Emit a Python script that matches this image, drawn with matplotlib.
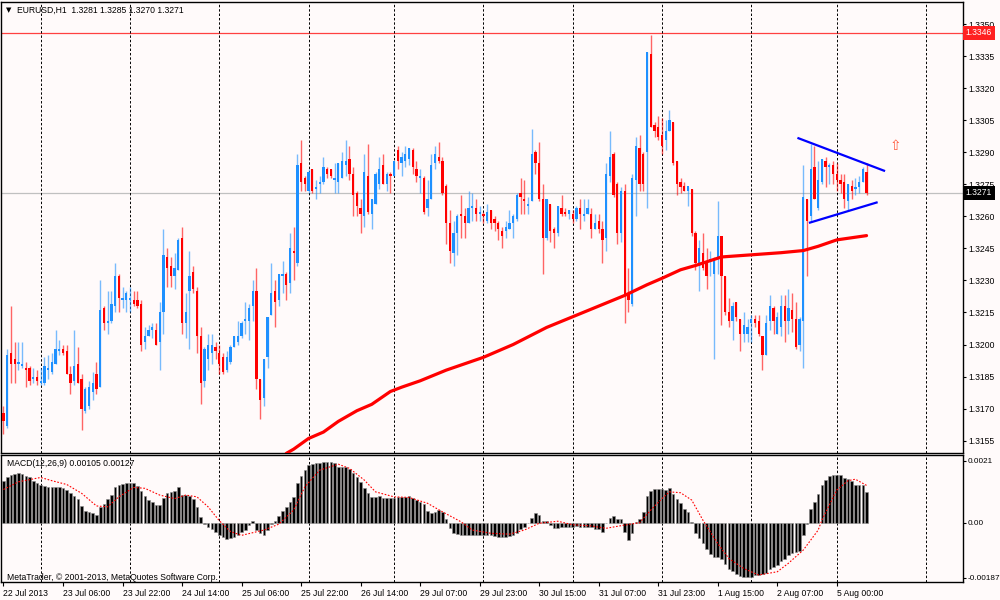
import matplotlib
matplotlib.use("Agg")
import matplotlib.pyplot as plt
import numpy as np

plt.rcParams['font.family'] = ['Liberation Sans', 'DejaVu Sans']

# hourly candles, 22 Jul 2013 14:00 .. 5 Aug 2013 08:00
opens = [
    1.3168, 1.3162, 1.3196, 1.3193, 1.3191, 1.3190, 1.3189, 1.3189, 1.3184, 1.3185,
    1.3182, 1.3182, 1.3188, 1.3187, 1.3191, 1.3197, 1.3198, 1.3197, 1.3186, 1.3183,
    1.3191, 1.3184, 1.3169, 1.3171, 1.3178, 1.3186, 1.3180, 1.3217, 1.3210, 1.3211,
    1.3218, 1.3232, 1.3221, 1.3221, 1.3221, 1.3221, 1.3221, 1.3219, 1.3201, 1.3204,
    1.3207, 1.3207, 1.3201, 1.3215, 1.3241, 1.3237, 1.3232, 1.3235, 1.3250, 1.3210,
    1.3225, 1.3234, 1.3225, 1.3204, 1.3183, 1.3193, 1.3196, 1.3199, 1.3196, 1.3194,
    1.3188, 1.3192, 1.3199, 1.3201, 1.3204, 1.3211, 1.3211, 1.3218, 1.3225, 1.3184,
    1.3175, 1.3194, 1.3214, 1.3225, 1.3221, 1.3232, 1.3233, 1.3229, 1.3244, 1.3238,
    1.3285, 1.3278, 1.3272, 1.3282, 1.3273, 1.3275, 1.3276, 1.3282, 1.3282, 1.3277,
    1.3276, 1.3278, 1.3284, 1.3287, 1.3280, 1.3271, 1.3264, 1.3260, 1.3279, 1.3261,
    1.3266, 1.3275, 1.3284, 1.3275, 1.3280, 1.3279, 1.3291, 1.3285, 1.3286, 1.3287,
    1.3291, 1.3282, 1.3278, 1.3278, 1.3264, 1.3268, 1.3285, 1.3288, 1.3286, 1.3274,
    1.3257, 1.3243, 1.3252, 1.3261, 1.3260, 1.3257, 1.3264, 1.3264, 1.3261, 1.3261,
    1.3258, 1.3263, 1.3259, 1.3257, 1.3253, 1.3253, 1.3254, 1.3257, 1.3259, 1.3271,
    1.3268, 1.3265, 1.3267, 1.3290, 1.3285, 1.3268, 1.3250, 1.3266, 1.3254, 1.3252,
    1.3264, 1.3262, 1.3261, 1.3261, 1.3259, 1.3264, 1.3260, 1.3261, 1.3261, 1.3254,
    1.3258, 1.3254, 1.3250, 1.3279, 1.3289, 1.3275, 1.3252, 1.3272, 1.3224, 1.3219,
    1.3277, 1.3292, 1.3289, 1.3290, 1.3336, 1.3303, 1.3302, 1.3298, 1.3296, 1.3300,
    1.3304, 1.3286, 1.3276, 1.3274, 1.3272, 1.3273, 1.3252, 1.3237, 1.3243, 1.3239,
    1.3239, 1.3233, 1.3240, 1.3251, 1.3232, 1.3215, 1.3211, 1.3220, 1.3212, 1.3205,
    1.3205, 1.3210, 1.3212, 1.3211, 1.3204, 1.3195, 1.3211, 1.3217, 1.3205, 1.3208,
    1.3218, 1.3211, 1.3216, 1.3212, 1.3200, 1.3211, 1.3268, 1.3260, 1.3283, 1.3264,
    1.3276, 1.3286, 1.3283, 1.3284, 1.3280, 1.3277, 1.3276, 1.3267, 1.3274, 1.3273,
    1.3274, 1.3276, 1.3281,
]
highs = [
    1.3171, 1.3198, 1.3218, 1.3201, 1.3201, 1.3201, 1.3192, 1.3190, 1.3189, 1.3188,
    1.3189, 1.3194, 1.3195, 1.3196, 1.3207, 1.3202, 1.3200, 1.3200, 1.3190, 1.3207,
    1.3199, 1.3186, 1.3180, 1.3183, 1.3187, 1.3192, 1.3230, 1.3218, 1.3225, 1.3225,
    1.3238, 1.3233, 1.3227, 1.3225, 1.3227, 1.3225, 1.3225, 1.3221, 1.3208, 1.3209,
    1.3210, 1.3210, 1.3220, 1.3254, 1.3245, 1.3241, 1.3243, 1.3250, 1.3255, 1.3224,
    1.3244, 1.3237, 1.3227, 1.3208, 1.3199, 1.3205, 1.3205, 1.3201, 1.3200, 1.3196,
    1.3197, 1.3200, 1.3204, 1.3211, 1.3211, 1.3220, 1.3219, 1.3230, 1.3236, 1.3184,
    1.3193, 1.3213, 1.3238, 1.3230, 1.3233, 1.3239, 1.3234, 1.3252, 1.3255, 1.3289,
    1.3296, 1.3279, 1.3282, 1.3282, 1.3277, 1.3279, 1.3288, 1.3283, 1.3282, 1.3285,
    1.3285, 1.3290, 1.3296, 1.3293, 1.3283, 1.3272, 1.3268, 1.3289, 1.3294, 1.3268,
    1.3281, 1.3288, 1.3289, 1.3281, 1.3281, 1.3286, 1.3293, 1.3290, 1.3293, 1.3292,
    1.3292, 1.3286, 1.3282, 1.3279, 1.3277, 1.3289, 1.3293, 1.3295, 1.3288, 1.3275,
    1.3263, 1.3258, 1.3261, 1.3270, 1.3264, 1.3272, 1.3271, 1.3268, 1.3265, 1.3262,
    1.3266, 1.3263, 1.3260, 1.3258, 1.3255, 1.3258, 1.3263, 1.3261, 1.3271, 1.3278,
    1.3277, 1.3269, 1.3301, 1.3291, 1.3295, 1.3275, 1.3268, 1.3266, 1.3255, 1.3265,
    1.3270, 1.3264, 1.3263, 1.3263, 1.3265, 1.3268, 1.3268, 1.3268, 1.3264, 1.3261,
    1.3261, 1.3258, 1.3285, 1.3300, 1.3290, 1.3276, 1.3274, 1.3275, 1.3236, 1.3280,
    1.3297, 1.3298, 1.3290, 1.3337, 1.3345, 1.3304, 1.3307, 1.3306, 1.3305, 1.3310,
    1.3304, 1.3286, 1.3278, 1.3276, 1.3274, 1.3273, 1.3253, 1.3249, 1.3252, 1.3245,
    1.3244, 1.3241, 1.3267, 1.3251, 1.3232, 1.3222, 1.3220, 1.3220, 1.3212, 1.3215,
    1.3212, 1.3214, 1.3214, 1.3214, 1.3204, 1.3214, 1.3223, 1.3218, 1.3215, 1.3223,
    1.3223, 1.3226, 1.3224, 1.3220, 1.3213, 1.3284, 1.3268, 1.3294, 1.3293, 1.3286,
    1.3287, 1.3288, 1.3285, 1.3286, 1.3285, 1.3280, 1.3280, 1.3275, 1.3277, 1.3278,
    1.3279, 1.3283, 1.3285,
]
lows = [
    1.3158, 1.3161, 1.3182, 1.3182, 1.3188, 1.3189, 1.3180, 1.3181, 1.3182, 1.3181,
    1.3181, 1.3181, 1.3184, 1.3186, 1.3191, 1.3195, 1.3195, 1.3186, 1.3177, 1.3181,
    1.3182, 1.3160, 1.3168, 1.3170, 1.3174, 1.3177, 1.3180, 1.3207, 1.3205, 1.3210,
    1.3215, 1.3215, 1.3217, 1.3215, 1.3215, 1.3218, 1.3217, 1.3197, 1.3198, 1.3204,
    1.3203, 1.3200, 1.3188, 1.3205, 1.3227, 1.3227, 1.3226, 1.3235, 1.3205, 1.3203,
    1.3198, 1.3224, 1.3196, 1.3172, 1.3180, 1.3188, 1.3191, 1.3193, 1.3186, 1.3186,
    1.3187, 1.3191, 1.3199, 1.3200, 1.3203, 1.3205, 1.3202, 1.3211, 1.3179, 1.3165,
    1.3171, 1.3189, 1.3214, 1.3208, 1.3218, 1.3224, 1.3221, 1.3224, 1.3230, 1.3237,
    1.3272, 1.3272, 1.3271, 1.3271, 1.3268, 1.3271, 1.3275, 1.3278, 1.3278, 1.3271,
    1.3271, 1.3278, 1.3279, 1.3277, 1.3260, 1.3260, 1.3252, 1.3255, 1.3261, 1.3254,
    1.3266, 1.3273, 1.3275, 1.3272, 1.3271, 1.3279, 1.3282, 1.3279, 1.3283, 1.3284,
    1.3280, 1.3276, 1.3271, 1.3261, 1.3260, 1.3268, 1.3282, 1.3285, 1.3270, 1.3247,
    1.3238, 1.3237, 1.3242, 1.3250, 1.3250, 1.3257, 1.3258, 1.3258, 1.3258, 1.3257,
    1.3257, 1.3254, 1.3253, 1.3249, 1.3245, 1.3250, 1.3254, 1.3250, 1.3258, 1.3261,
    1.3261, 1.3261, 1.3267, 1.3280, 1.3267, 1.3233, 1.3249, 1.3248, 1.3245, 1.3251,
    1.3260, 1.3260, 1.3259, 1.3257, 1.3258, 1.3254, 1.3258, 1.3261, 1.3250, 1.3254,
    1.3252, 1.3238, 1.3244, 1.3276, 1.3269, 1.3247, 1.3248, 1.3210, 1.3215, 1.3218,
    1.3260, 1.3272, 1.3272, 1.3264, 1.3302, 1.3297, 1.3296, 1.3289, 1.3291, 1.3300,
    1.3284, 1.3270, 1.3271, 1.3272, 1.3265, 1.3251, 1.3235, 1.3225, 1.3235, 1.3226,
    1.3232, 1.3193, 1.3233, 1.3209, 1.3214, 1.3208, 1.3202, 1.3211, 1.3197, 1.3201,
    1.3201, 1.3201, 1.3208, 1.3204, 1.3188, 1.3195, 1.3207, 1.3205, 1.3205, 1.3204,
    1.3201, 1.3205, 1.3206, 1.3198, 1.3197, 1.3189, 1.3232, 1.3258, 1.3268, 1.3263,
    1.3275, 1.3274, 1.3275, 1.3275, 1.3272, 1.3271, 1.3264, 1.3263, 1.3268, 1.3270,
    1.3271, 1.3276, 1.3270,
]
closes = [
    1.3164, 1.3195, 1.3191, 1.3191, 1.3192, 1.3191, 1.3188, 1.3183, 1.3185, 1.3183,
    1.3183, 1.3190, 1.3189, 1.3192, 1.3198, 1.3198, 1.3196, 1.3186, 1.3182, 1.3190,
    1.3182, 1.3170, 1.3179, 1.3180, 1.3182, 1.3179, 1.3216, 1.3210, 1.3211, 1.3219,
    1.3232, 1.3222, 1.3222, 1.3224, 1.3222, 1.3219, 1.3218, 1.3200, 1.3204, 1.3207,
    1.3208, 1.3200, 1.3215, 1.3242, 1.3236, 1.3232, 1.3236, 1.3249, 1.3210, 1.3215,
    1.3232, 1.3226, 1.3204, 1.3182, 1.3198, 1.3200, 1.3200, 1.3197, 1.3191, 1.3187,
    1.3194, 1.3199, 1.3204, 1.3204, 1.3210, 1.3212, 1.3217, 1.3225, 1.3184, 1.3174,
    1.3193, 1.3213, 1.3224, 1.3220, 1.3233, 1.3233, 1.3228, 1.3245, 1.3243, 1.3284,
    1.3276, 1.3275, 1.3281, 1.3272, 1.3274, 1.3276, 1.3283, 1.3280, 1.3279, 1.3278,
    1.3285, 1.3286, 1.3286, 1.3280, 1.3270, 1.3265, 1.3261, 1.3281, 1.3262, 1.3268,
    1.3280, 1.3282, 1.3275, 1.3280, 1.3279, 1.3286, 1.3286, 1.3288, 1.3289, 1.3292,
    1.3283, 1.3279, 1.3279, 1.3262, 1.3268, 1.3284, 1.3289, 1.3286, 1.3271, 1.3257,
    1.3244, 1.3252, 1.3260, 1.3260, 1.3257, 1.3264, 1.3265, 1.3261, 1.3262, 1.3260,
    1.3262, 1.3257, 1.3257, 1.3254, 1.3251, 1.3255, 1.3257, 1.3260, 1.3270, 1.3269,
    1.3267, 1.3266, 1.3289, 1.3285, 1.3268, 1.3250, 1.3268, 1.3253, 1.3252, 1.3265,
    1.3261, 1.3261, 1.3263, 1.3259, 1.3264, 1.3261, 1.3261, 1.3264, 1.3254, 1.3257,
    1.3254, 1.3249, 1.3280, 1.3288, 1.3270, 1.3252, 1.3272, 1.3223, 1.3221, 1.3278,
    1.3293, 1.3275, 1.3275, 1.3337, 1.3302, 1.3300, 1.3297, 1.3293, 1.3300, 1.3305,
    1.3285, 1.3275, 1.3274, 1.3272, 1.3274, 1.3252, 1.3238, 1.3245, 1.3236, 1.3232,
    1.3240, 1.3240, 1.3251, 1.3232, 1.3215, 1.3211, 1.3218, 1.3213, 1.3205, 1.3209,
    1.3208, 1.3212, 1.3210, 1.3205, 1.3195, 1.3210, 1.3218, 1.3211, 1.3213, 1.3218,
    1.3211, 1.3217, 1.3212, 1.3199, 1.3212, 1.3269, 1.3258, 1.3282, 1.3268, 1.3277,
    1.3287, 1.3283, 1.3284, 1.3280, 1.3277, 1.3275, 1.3268, 1.3275, 1.3272, 1.3274,
    1.3276, 1.3282, 1.3271,
]

# MACD(12,26,9) main values, one per bar
macd_main = [
    0.00143, 0.00154, 0.00161, 0.00166, 0.00168, 0.00166, 0.00159, 0.00154, 0.00143, 0.00134,
    0.00127, 0.00125, 0.00120, 0.00120, 0.00123, 0.00123, 0.00119, 0.00111, 0.00100, 0.00091,
    0.00079, 0.00057, 0.00041, 0.00036, 0.00034, 0.00027, 0.00054, 0.00064, 0.00079, 0.00095,
    0.00120, 0.00127, 0.00132, 0.00134, 0.00136, 0.00134, 0.00125, 0.00107, 0.00091, 0.00077,
    0.00070, 0.00061, 0.00059, 0.00084, 0.00100, 0.00104, 0.00109, 0.00123, 0.00095, 0.00095,
    0.00091, 0.00082, 0.00054, 0.00020, -0.00005, -0.00016, -0.00023, -0.00030, -0.00042, -0.00050,
    -0.00057, -0.00052, -0.00048, -0.00041, -0.00032, -0.00025, -0.00009, 0.00007, -0.00025, -0.00034,
    -0.00043, -0.00025, -0.00005, 0.00005, 0.00023, 0.00041, 0.00052, 0.00070, 0.00089, 0.00134,
    0.00159, 0.00179, 0.00195, 0.00200, 0.00202, 0.00204, 0.00207, 0.00208, 0.00207, 0.00202,
    0.00191, 0.00191, 0.00188, 0.00182, 0.00168, 0.00154, 0.00138, 0.00118, 0.00100, 0.00089,
    0.00089, 0.00091, 0.00084, 0.00083, 0.00083, 0.00083, 0.00086, 0.00086, 0.00089, 0.00091,
    0.00084, 0.00077, 0.00070, 0.00064, 0.00039, 0.00032, 0.00036, 0.00043, 0.00036, 0.00014,
    -0.00018, -0.00034, -0.00039, -0.00041, -0.00043, -0.00043, -0.00041, -0.00041, -0.00041, -0.00041,
    -0.00041, -0.00042, -0.00045, -0.00050, -0.00050, -0.00050, -0.00045, -0.00041, -0.00034, -0.00020,
    -0.00016, -0.00002, 0.00015, 0.00032, 0.00026, 0.00007, 0.00005, -0.00009, -0.00018, -0.00018,
    -0.00016, -0.00016, -0.00014, -0.00014, -0.00011, -0.00014, -0.00014, -0.00014, -0.00016, -0.00020,
    -0.00023, -0.00031, -0.00002, 0.00016, 0.00023, 0.00011, 0.00011, -0.00030, -0.00059, -0.00034,
    0.00002, 0.00011, 0.00036, 0.00091, 0.00107, 0.00113, 0.00116, 0.00113, 0.00111, 0.00118,
    0.00098, 0.00082, 0.00066, 0.00048, 0.00036, 0.00002, -0.00034, -0.00052, -0.00070, -0.00089,
    -0.00107, -0.00116, -0.00118, -0.00123, -0.00141, -0.00157, -0.00163, -0.00173, -0.00182, -0.00184,
    -0.00186, -0.00186, -0.00179, -0.00177, -0.00175, -0.00170, -0.00159, -0.00150, -0.00143, -0.00132,
    -0.00123, -0.00111, -0.00104, -0.00100, -0.00098, -0.00043, -0.00005, 0.00045, 0.00070, 0.00098,
    0.00127, 0.00145, 0.00159, 0.00163, 0.00163, 0.00161, 0.00152, 0.00148, 0.00141, 0.00129,
    0.00129, 0.00127, 0.00105,
]

# MACD signal line, read at points along the dotted curve
signal_bars = [0, 4, 10, 13, 17, 21, 25, 28, 31, 35, 38, 42, 46, 49, 52, 55, 58, 61, 64, 70,
               74, 78, 81, 85, 90, 93, 97, 100, 105, 109, 114, 118, 123, 126, 131, 136, 140,
               144, 149, 153, 158, 162, 167, 171, 174, 177, 179, 182, 185, 188, 192, 195, 199,
               203, 208, 211, 215, 219, 220, 224, 227, 229, 232]
signal_vals = [0.00113, 0.00139, 0.00154, 0.00143, 0.00130, 0.00100, 0.00057, 0.00054, 0.00088,
               0.00120, 0.00117, 0.00094, 0.00082, 0.00094, 0.00088, 0.00054, 0.00007, -0.00030,
               -0.00043, -0.00025, -0.00005, 0.00043, 0.00122, 0.00179, 0.00199, 0.00185, 0.00145,
               0.00105, 0.00088, 0.00086, 0.00066, 0.00037, 0.00003, -0.00025, -0.00036, -0.00039,
               -0.00025, -0.00002, 0.00005, -0.00007, -0.00011, -0.00019, -0.00008, 0.00000,
               0.00043, 0.00082, 0.00105, 0.00102, 0.00077, 0.00009, -0.00071, -0.00122, -0.00156,
               -0.00178, -0.00167, -0.00138, -0.00093, -0.00025, 0.00009, 0.00111, 0.00143,
               0.00148, 0.00127]

# thick red moving average, read at points along the curve
ma_bars = [76, 78, 82, 86, 90, 95, 99, 104, 107, 112, 119, 129, 137, 146, 153, 160, 167, 173,
           177, 182, 186, 193, 201, 209, 215, 219, 224, 228, 232]
ma_vals = [1.3149, 1.3151, 1.3156, 1.3159, 1.3164, 1.3169, 1.3172, 1.3178, 1.3180, 1.3183,
           1.3188, 1.3194, 1.3200, 1.3208, 1.3213, 1.3218, 1.3223, 1.3228, 1.3231, 1.3235,
           1.3237, 1.3241, 1.3242, 1.3243, 1.3244, 1.3246, 1.3249, 1.3250, 1.3251]

# triangle drawn on the chart
tri_upper_bars = [213.7, 236.7]
tri_upper_vals = [1.32966, 1.32814]
tri_lower_bars = [216.8, 234.7]
tri_lower_vals = [1.32571, 1.32665]
arrow_bar = 239.7
arrow_price = 1.3293

time_labels = ['22 Jul 2013', '23 Jul 06:00', '23 Jul 22:00', '24 Jul 14:00', '25 Jul 06:00',
               '25 Jul 22:00', '26 Jul 14:00', '29 Jul 07:00', '29 Jul 23:00', '30 Jul 15:00',
               '31 Jul 07:00', '31 Jul 23:00', '1 Aug 15:00', '2 Aug 07:00', '5 Aug 00:00']
day_starts = [10, 34, 58, 82, 105, 129, 153, 177, 201, 224, 248]
price_ticks = [1.3350, 1.3335, 1.3320, 1.3305, 1.3290, 1.3275, 1.3260, 1.3245, 1.3230,
               1.3215, 1.3200, 1.3185, 1.3170, 1.3155]
macd_ticks = [0.0021, 0.0, -0.00187]
macd_tick_labels = ['0.0021', '0.00', '-0.00187']
level_line = 1.3346
bid = 1.3271
header = 'EURUSD,H1  1.3281 1.3285 1.3270 1.3271'
macd_title = 'MACD(12,26,9) 0.00105 0.00127'
copyright_txt = 'MetaTrader, \u00a9 2001-2013, MetaQuotes Software Corp.'

BG = '#fffafa'
BULL = '#1e90ff'
BEAR = '#ff0000'
FS = 6.2

fig = plt.figure(figsize=(10, 6), dpi=100, facecolor=BG)
ax = fig.add_axes([0.001, 147 / 600, 0.962, 451 / 600], facecolor=BG)
ax2 = fig.add_axes([0.001, 18 / 600, 0.962, 127 / 600], facecolor=BG)

xlim = (-0.672, 257.93)

# --- price panel ---
o = np.array(opens)
h = np.array(highs)
l = np.array(lows)
c = np.array(closes)
x = np.arange(len(c))
up = c >= o
body_col = np.where(up, BULL, BEAR)

ax.axhline(level_line, color='#ff4040', lw=0.9, zorder=1)
ax.axhline(bid, color='#c0c0c0', lw=0.9, zorder=1)
for d in day_starts:
    ax.axvline(d, color='black', lw=0.7, ls=(0, (2.5, 2)), zorder=1)

ax.vlines(x, l, h, colors=body_col, lw=1.0, alpha=0.6, zorder=3)
ax.bar(x, np.maximum(np.abs(c - o), 0.00004), bottom=np.minimum(o, c), width=0.62,
       color=body_col, lw=0, zorder=4)

ax.plot(ma_bars, ma_vals, color='red', lw=2.3, zorder=5, solid_capstyle='round')
ax.plot(tri_upper_bars, tri_upper_vals, color='#0000ff', lw=1.6, zorder=6)
ax.plot(tri_lower_bars, tri_lower_vals, color='#0000ff', lw=1.6, zorder=6)
ax.text(arrow_bar, arrow_price, '\u21e7', color='#ff5a3c', fontsize=10, family='DejaVu Sans',
        ha='center', va='center', zorder=6)

ax.set_xlim(*xlim)
ax.set_ylim(1.31492, 1.33604)
ax.set_xticks([])
ax.yaxis.tick_right()
ax.set_yticks(price_ticks)
ax.set_yticklabels(['%.4f' % p for p in price_ticks])
ax.tick_params(axis='y', direction='out', length=2, width=0.8, pad=2, labelsize=FS)

yt = ax.get_yaxis_transform()
ax.text(1.003, level_line, '%.4f' % level_line, transform=yt, ha='left', va='center',
        fontsize=FS, color='white', zorder=10, clip_on=False,
        bbox=dict(boxstyle='square,pad=0.3', facecolor='#ff2020', edgecolor='none'))
ax.text(1.003, bid, '%.4f' % bid, transform=yt, ha='left', va='center',
        fontsize=FS, color='white', zorder=10, clip_on=False,
        bbox=dict(boxstyle='square,pad=0.3', facecolor='black', edgecolor='none'))

# --- MACD panel ---
for d in day_starts:
    ax2.axvline(d, color='black', lw=0.7, ls=(0, (2.5, 2)), zorder=1)
ax2.bar(x, macd_main, width=0.7, color='black', edgecolor='#8c8c8c', lw=0.4, zorder=3)
ax2.plot(signal_bars, signal_vals, color='red', lw=0.8, ls=(0, (1.5, 1.5)), zorder=4)

ax2.set_xlim(*xlim)
ax2.set_ylim(-0.002018, 0.002304)
ax2.yaxis.tick_right()
ax2.set_yticks(macd_ticks)
ax2.set_yticklabels(macd_tick_labels)
ax2.tick_params(axis='y', direction='out', length=2, width=0.8, pad=1, labelsize=5.9)
ax2.set_xticks(np.arange(len(time_labels)) * 16)
ax2.set_xticklabels(time_labels, ha='left')
ax2.tick_params(axis='x', direction='out', length=3, width=0.8, pad=2, labelsize=FS)

for a in (ax, ax2):
    for s in a.spines.values():
        s.set_color('black')
        s.set_linewidth(1.0)

fig.text(6 / 1000, 1 - 10 / 600, '\u25bc', fontsize=5, family='DejaVu Sans', va='center')
fig.text(17 / 1000, 1 - 10 / 600, header, fontsize=FS, va='center')
fig.text(7 / 1000, 1 - 463 / 600, macd_title, fontsize=FS, va='center')
fig.text(7 / 1000, 1 - 577 / 600, copyright_txt, fontsize=FS, va='center')

fig.savefig('out.png', dpi=100, facecolor=BG)
